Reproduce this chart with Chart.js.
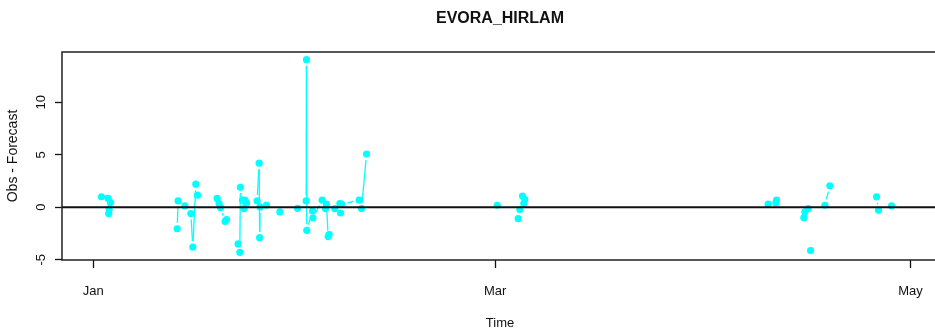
<!DOCTYPE html>
<html>
<head>
<meta charset="utf-8">
<script src="https://cdn.jsdelivr.net/npm/chart.js@4/dist/chart.umd.min.js"></script>
<style>
  html, body { margin: 0; padding: 0; background: #fff; overflow: hidden; width: 935px; height: 333px; }
  #wrap { width: 945px; height: 333px; }
</style>
</head>
<body>
<div id="wrap"><canvas id="chart" width="945" height="333"></canvas></div>
<script>
// Day of year (0 = 1 Jan) for each verification time; null values are gaps (NA) in the series.
const times = [
  1.20, 2.17, 2.25, 2.32, 2.53,
  7.0,
  12.31, 12.45, 13.44, 14.32, 14.61, 15.05, 15.30,
  16.7,
  18.18, 18.47, 18.68, 19.35, 19.56,
  20.4,
  21.26, 21.51, 21.59, 21.91, 22.14, 22.25, 22.40, 22.50,
  23.3,
  24.05, 24.35, 24.42, 24.49, 25.43,
  26.4,
  27.39,
  28.7,
  29.99, 31.25, 31.30, 31.34, 32.19, 32.25, 33.60, 34.10, 34.24, 34.48, 34.63,
  35.0,
  35.46, 36.20, 36.30, 36.45, 39.03, 39.38, 40.12,
  50.0,
  59.30,
  61.0,
  62.38, 62.63, 63.02, 63.22, 63.36,
  80.0,
  99.09, 100.22, 100.32,
  102.0,
  104.33, 104.48, 104.96,
  105.1,
  105.32,
  106.5,
  107.42, 108.15,
  112.0,
  115.01, 115.30,
  116.2,
  117.21
];

// Observation minus forecast
const obsMinusForecast = [
  1.0, 0.85, -0.6, -0.2, 0.45,
  null,
  -2.05, 0.6, 0.13, -0.6, -3.8, 2.2, 1.15,
  null,
  0.84, 0.35, -0.03, -1.35, -1.18,
  null,
  -3.5, -4.3, 1.9, 0.67, -0.13, 0.67, 0.41, 0.41,
  null,
  0.6, 4.2, -2.9, 0.03, 0.2,
  null,
  -0.45,
  null,
  -0.1, 0.6, 14.07, -2.2, -0.35, -1.0, 0.67, -0.13, 0.29, -2.8, -2.6,
  null,
  -0.13, 0.35, -0.55, 0.3, 0.67, -0.13, 5.07,
  null,
  0.19,
  null,
  -1.09, -0.22, 1.06, 0.35, 0.74,
  null,
  0.29, 0.41, 0.67,
  null,
  -1.0, -0.45, -0.13,
  null,
  -4.13,
  null,
  0.19, 2.05,
  null,
  0.99, -0.29,
  null,
  0.13
];

// Axis ticks
const monthTicks = [0, 59, 120];
const monthLabels = ['Jan', 'Mar', 'May'];
const valueTicks = [-5, 0, 5, 10];
const valueTickLabels = ['-5', '0', '5', '10'];

const chartTitle = 'EVORA_HIRLAM';
const xTitle = 'Time';
const yTitle = 'Obs - Forecast';

const points = times.map((t, i) => ({ x: t, y: obsMinusForecast[i] }));

const FONT = '"Liberation Sans", Arial, Helvetica, sans-serif';
const CYAN = '#00ffff';

// Lines between consecutive observations, broken at NA and kept clear of the symbols (R type "b")
const gappedLines = {
  id: 'gappedLines',
  beforeDatasetsDraw(chart) {
    const meta = chart.getDatasetMeta(0);
    const ctx = chart.ctx;
    const gap = 6;
    ctx.save();
    ctx.strokeStyle = CYAN;
    ctx.lineWidth = 1.3;
    for (let i = 1; i < points.length; i++) {
      if (points[i - 1].y === null || points[i].y === null) continue;
      const a = meta.data[i - 1], b = meta.data[i];
      const dx = b.x - a.x, dy = b.y - a.y;
      const len = Math.hypot(dx, dy);
      if (len <= 2 * gap) continue;
      const ux = dx / len, uy = dy / len;
      ctx.beginPath();
      ctx.moveTo(a.x + ux * gap, a.y + uy * gap);
      ctx.lineTo(b.x - ux * gap, b.y - uy * gap);
      ctx.stroke();
    }
    ctx.restore();
  }
};

// Zero reference line, plot box, tick labels and titles
const frame = {
  id: 'frame',
  afterDatasetsDraw(chart) {
    const ctx = chart.ctx;
    const area = chart.chartArea;
    const xs = chart.scales.x, ys = chart.scales.y;
    ctx.save();

    const y0 = ys.getPixelForValue(0);
    ctx.strokeStyle = '#111';
    ctx.lineWidth = 2;
    ctx.beginPath();
    ctx.moveTo(area.left, y0);
    ctx.lineTo(area.right, y0);
    ctx.stroke();

    ctx.strokeStyle = '#222';
    ctx.lineWidth = 1.5;
    ctx.strokeRect(area.left, area.top, area.right - area.left, area.bottom - area.top);

    ctx.fillStyle = '#111';
    ctx.font = '13px ' + FONT;
    ctx.textAlign = 'center';
    ctx.textBaseline = 'middle';
    monthTicks.forEach((v, i) => {
      ctx.fillText(monthLabels[i], xs.getPixelForValue(v), 291);
    });
    valueTicks.forEach((v, i) => {
      ctx.save();
      ctx.translate(41, ys.getPixelForValue(v));
      ctx.rotate(-Math.PI / 2);
      ctx.fillText(valueTickLabels[i], 0, 0);
      ctx.restore();
    });

    const cx = (area.left + area.right) / 2;
    ctx.fillText(xTitle, cx, 323);

    ctx.save();
    ctx.font = '14px ' + FONT;
    ctx.translate(13, (area.top + area.bottom) / 2);
    ctx.rotate(-Math.PI / 2);
    ctx.fillText(yTitle, 0, 0);
    ctx.restore();

    ctx.font = 'bold 16px ' + FONT;
    ctx.fillText(chartTitle, cx, 19);
    ctx.restore();
  }
};

new Chart(document.getElementById('chart'), {
  type: 'scatter',
  data: {
    datasets: [{
      data: points,
      pointRadius: 3.6,
      pointHoverRadius: 3.6,
      pointBackgroundColor: CYAN,
      pointBorderWidth: 0,
      showLine: false
    }]
  },
  options: {
    responsive: false,
    animation: false,
    events: [],
    layout: { padding: { top: 52, right: 7, bottom: 0, left: 0 } },
    plugins: { legend: { display: false }, tooltip: { enabled: false }, title: { display: false } },
    scales: {
      x: {
        type: 'linear',
        min: -4.6,
        max: 124.03,
        afterBuildTicks: s => { s.ticks = monthTicks.map(v => ({ value: v })); },
        afterFit: s => { s.height = 73; },
        ticks: { display: false },
        border: { display: false },
        grid: { drawOnChartArea: false, drawTicks: true, tickLength: 8, tickColor: '#111', tickWidth: 1.3 }
      },
      y: {
        type: 'linear',
        min: -5.03,
        max: 14.8,
        afterBuildTicks: s => { s.ticks = valueTicks.map(v => ({ value: v })); },
        afterFit: s => { s.width = 62; },
        ticks: { display: false },
        border: { display: false },
        grid: { drawOnChartArea: false, drawTicks: true, tickLength: 7, tickColor: '#111', tickWidth: 1.3 }
      }
    }
  },
  plugins: [gappedLines, frame]
});
</script>
</body>
</html>
